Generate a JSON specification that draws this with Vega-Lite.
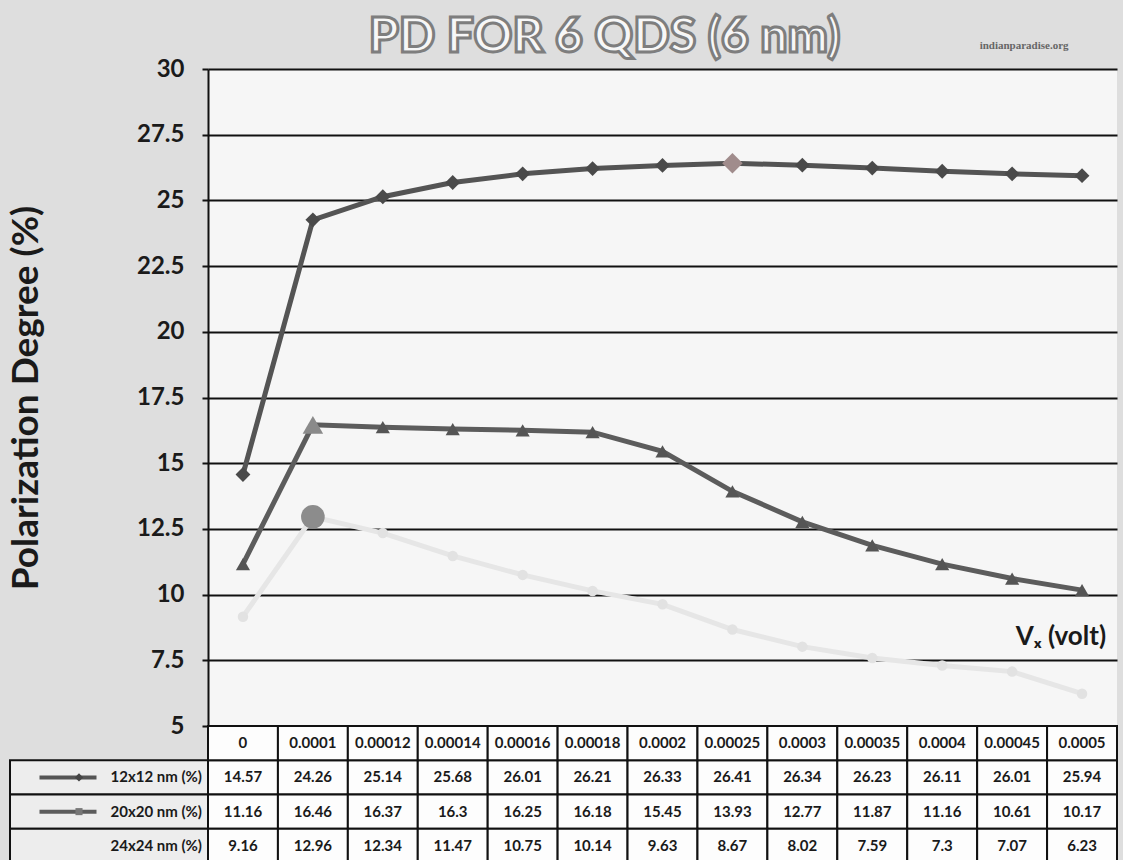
{
  "$schema": "https://vega.github.io/schema/vega-lite/v6.json",
  "background": "#dedede",
  "padding": {"left": 7, "top": 14, "right": 6, "bottom": 0},
  "config": {"font": "Lato", "view": {"stroke": null}},
  "datasets": {
    "pd": [
      {"vx": "0", "series": "12x12 nm (%)", "pd": 14.57},
      {"vx": "0.0001", "series": "12x12 nm (%)", "pd": 24.26},
      {"vx": "0.00012", "series": "12x12 nm (%)", "pd": 25.14},
      {"vx": "0.00014", "series": "12x12 nm (%)", "pd": 25.68},
      {"vx": "0.00016", "series": "12x12 nm (%)", "pd": 26.01},
      {"vx": "0.00018", "series": "12x12 nm (%)", "pd": 26.21},
      {"vx": "0.0002", "series": "12x12 nm (%)", "pd": 26.33},
      {"vx": "0.00025", "series": "12x12 nm (%)", "pd": 26.41},
      {"vx": "0.0003", "series": "12x12 nm (%)", "pd": 26.34},
      {"vx": "0.00035", "series": "12x12 nm (%)", "pd": 26.23},
      {"vx": "0.0004", "series": "12x12 nm (%)", "pd": 26.11},
      {"vx": "0.00045", "series": "12x12 nm (%)", "pd": 26.01},
      {"vx": "0.0005", "series": "12x12 nm (%)", "pd": 25.94},
      {"vx": "0", "series": "20x20 nm (%)", "pd": 11.16},
      {"vx": "0.0001", "series": "20x20 nm (%)", "pd": 16.46},
      {"vx": "0.00012", "series": "20x20 nm (%)", "pd": 16.37},
      {"vx": "0.00014", "series": "20x20 nm (%)", "pd": 16.3},
      {"vx": "0.00016", "series": "20x20 nm (%)", "pd": 16.25},
      {"vx": "0.00018", "series": "20x20 nm (%)", "pd": 16.18},
      {"vx": "0.0002", "series": "20x20 nm (%)", "pd": 15.45},
      {"vx": "0.00025", "series": "20x20 nm (%)", "pd": 13.93},
      {"vx": "0.0003", "series": "20x20 nm (%)", "pd": 12.77},
      {"vx": "0.00035", "series": "20x20 nm (%)", "pd": 11.87},
      {"vx": "0.0004", "series": "20x20 nm (%)", "pd": 11.16},
      {"vx": "0.00045", "series": "20x20 nm (%)", "pd": 10.61},
      {"vx": "0.0005", "series": "20x20 nm (%)", "pd": 10.17},
      {"vx": "0", "series": "24x24 nm (%)", "pd": 9.16},
      {"vx": "0.0001", "series": "24x24 nm (%)", "pd": 12.96},
      {"vx": "0.00012", "series": "24x24 nm (%)", "pd": 12.34},
      {"vx": "0.00014", "series": "24x24 nm (%)", "pd": 11.47},
      {"vx": "0.00016", "series": "24x24 nm (%)", "pd": 10.75},
      {"vx": "0.00018", "series": "24x24 nm (%)", "pd": 10.14},
      {"vx": "0.0002", "series": "24x24 nm (%)", "pd": 9.63},
      {"vx": "0.00025", "series": "24x24 nm (%)", "pd": 8.67},
      {"vx": "0.0003", "series": "24x24 nm (%)", "pd": 8.02},
      {"vx": "0.00035", "series": "24x24 nm (%)", "pd": 7.59},
      {"vx": "0.0004", "series": "24x24 nm (%)", "pd": 7.3},
      {"vx": "0.00045", "series": "24x24 nm (%)", "pd": 7.07},
      {"vx": "0.0005", "series": "24x24 nm (%)", "pd": 6.23}
    ]
  },
  "columns": 2,
  "spacing": 0,
  "bounds": "flush",
  "align": "each",
  "concat": [
    {
      "width": 198,
      "height": 657,
      "data": {"values": [{"t": ""}]},
      "mark": {"type": "text"},
      "encoding": {"text": {"field": "t", "type": "nominal"}}
    },
    {
      "width": 909,
      "height": 657,
      "data": {"name": "pd"},
      "view": {"fill": "#f6f6f6", "stroke": null},
      "encoding": {
        "x": {
          "field": "vx",
          "type": "ordinal",
          "scale": {
            "type": "point",
            "padding": 0.5,
            "domain": ["0", "0.0001", "0.00012", "0.00014", "0.00016", "0.00018", "0.0002", "0.00025", "0.0003", "0.00035", "0.0004", "0.00045", "0.0005"]
          },
          "axis": null
        },
        "y": {
          "field": "pd",
          "type": "quantitative",
          "scale": {"domain": [5, 30], "nice": false, "zero": false},
          "axis": {
            "values": [5, 7.5, 10, 12.5, 15, 17.5, 20, 22.5, 25, 27.5, 30],
            "format": ".1~f",
            "grid": true,
            "gridColor": "#111111",
            "gridWidth": 2,
            "gridOpacity": 1,
            "domainColor": "#111111",
            "domainWidth": 2,
            "tickColor": "#111111",
            "tickWidth": 2,
            "tickSize": 6,
            "labelFont": "Lato",
            "labelFontWeight": "bold",
            "labelFontSize": 24,
            "labelColor": "#1a1a1a",
            "labelPadding": 18,
            "title": "Polarization Degree (%)",
            "titleFont": "Lato",
            "titleFontWeight": "bold",
            "titleFontSize": 37,
            "titleColor": "#1a1a1a",
            "titlePadding": 91
          }
        }
      },
      "layer": [
        {
          "mark": {"type": "line", "strokeWidth": 5},
          "encoding": {
            "color": {
              "field": "series",
              "type": "nominal",
              "scale": {"domain": ["12x12 nm (%)", "20x20 nm (%)", "24x24 nm (%)"], "range": ["#545454", "#5c5c5c", "#e6e6e6"]},
              "legend": null
            }
          }
        },
        {
          "transform": [{"filter": "datum.series == '12x12 nm (%)'"}],
          "mark": {"type": "point", "shape": "diamond", "filled": true, "size": 220, "color": "#4a4a4a", "opacity": 1}
        },
        {
          "transform": [{"filter": "datum.series == '20x20 nm (%)'"}],
          "mark": {"type": "point", "shape": "triangle-up", "filled": true, "size": 200, "color": "#555555", "opacity": 1}
        },
        {
          "transform": [{"filter": "datum.series == '24x24 nm (%)'"}],
          "mark": {"type": "point", "shape": "circle", "filled": true, "size": 110, "color": "#e2e2e2", "opacity": 1}
        },
        {
          "transform": [{"filter": "datum.series == '12x12 nm (%)' && datum.vx == '0.00025'"}],
          "mark": {"type": "point", "shape": "diamond", "filled": true, "size": 420, "color": "#a08c8c", "opacity": 1}
        },
        {
          "transform": [{"filter": "datum.series == '20x20 nm (%)' && datum.vx == '0.0001'"}],
          "mark": {"type": "point", "shape": "triangle-up", "filled": true, "size": 420, "color": "#8a8a8a", "opacity": 1}
        },
        {
          "transform": [{"filter": "datum.series == '24x24 nm (%)' && datum.vx == '0.0001'"}],
          "mark": {"type": "point", "shape": "circle", "filled": true, "size": 560, "color": "#8c8c8c", "opacity": 1}
        },
        {
          "transform": [{"filter": "datum.series == '12x12 nm (%)' && datum.vx == '0.0005'"}],
          "mark": {"type": "text", "align": "right", "baseline": "middle", "font": "Lato", "fontWeight": "bold", "fontSize": 26, "color": "#1a1a1a", "dx": 24},
          "encoding": {
            "x": {"datum": "0.0005"},
            "y": {"datum": 8.4},
            "text": {"value": "Vₓ (volt)"}
          }
        },
        {
          "transform": [{"filter": "datum.series == '12x12 nm (%)' && datum.vx == '0.00018'"}],
          "mark": {"type": "text", "align": "center", "baseline": "middle", "font": "Lato", "fontWeight": 900, "fontSize": 48, "fill": "#f7f7f7", "stroke": "#7e7e7e", "strokeWidth": 3, "dx": 12, "dy": -31},
          "encoding": {
            "x": {"datum": "0.00018"},
            "y": {"datum": 30},
            "text": {"value": "PD FOR 6 QDS (6 nm)"}
          }
        },
        {
          "transform": [{"filter": "datum.series == '12x12 nm (%)' && datum.vx == '0.00045'"}],
          "mark": {"type": "text", "align": "center", "baseline": "middle", "font": "Liberation Serif", "fontWeight": "bold", "fontSize": 11, "color": "#666666", "dx": 12, "dy": -23},
          "encoding": {
            "x": {"datum": "0.00045"},
            "y": {"datum": 30},
            "text": {"value": "indianparadise.org"}
          }
        }
      ]
    },
    {
      "width": 198,
      "height": 137,
      "data": {"name": "pd"},
      "transform": [{"filter": "datum.vx == '0'"}],
      "encoding": {
        "y": {
          "field": "series",
          "type": "nominal",
          "scale": {"type": "band", "domain": ["hdr", "12x12 nm (%)", "20x20 nm (%)", "24x24 nm (%)"], "paddingInner": 0, "paddingOuter": 0},
          "axis": null
        }
      },
      "layer": [
        {
          "mark": {"type": "rect", "fill": "#ededed", "stroke": "#111111", "strokeWidth": 2}
        },
        {
          "mark": {"type": "text", "align": "right", "baseline": "middle", "font": "Lato", "fontWeight": "bold", "fontSize": 15, "color": "#1a1a1a", "dx": 93},
          "encoding": {"text": {"field": "series", "type": "nominal"}}
        },
        {
          "transform": [{"filter": "datum.series != '24x24 nm (%)'"}],
          "mark": {"type": "point", "shape": "M-1,0L1,0", "filled": false, "size": 3249, "strokeWidth": 4, "opacity": 1, "xOffset": -41},
          "encoding": {
            "color": {
              "field": "series",
              "type": "nominal",
              "scale": {"domain": ["12x12 nm (%)", "20x20 nm (%)", "24x24 nm (%)"], "range": ["#545454", "#8a8a8a", "#e4e4e4"]},
              "legend": null
            }
          }
        },
        {
          "transform": [{"filter": "datum.series == '12x12 nm (%)'"}],
          "mark": {"type": "point", "shape": "diamond", "filled": true, "size": 70, "color": "#444444", "opacity": 1, "xOffset": -30}
        },
        {
          "transform": [{"filter": "datum.series == '20x20 nm (%)'"}],
          "mark": {"type": "point", "shape": "square", "filled": true, "size": 50, "color": "#777777", "opacity": 1, "xOffset": -30}
        }
      ]
    },
    {
      "width": 909,
      "height": 137,
      "data": {"name": "pd"},
      "encoding": {
        "x": {
          "field": "vx",
          "type": "ordinal",
          "scale": {
            "type": "band",
            "paddingInner": 0,
            "paddingOuter": 0,
            "domain": ["0", "0.0001", "0.00012", "0.00014", "0.00016", "0.00018", "0.0002", "0.00025", "0.0003", "0.00035", "0.0004", "0.00045", "0.0005"]
          },
          "axis": null
        },
        "y": {
          "field": "series",
          "type": "nominal",
          "scale": {"type": "band", "domain": ["hdr", "12x12 nm (%)", "20x20 nm (%)", "24x24 nm (%)"], "paddingInner": 0, "paddingOuter": 0},
          "axis": null
        }
      },
      "layer": [
        {
          "mark": {"type": "rect", "fill": "#fdfdfd", "stroke": "#111111", "strokeWidth": 2}
        },
        {
          "transform": [{"filter": "datum.series == '12x12 nm (%)'"}],
          "mark": {"type": "rect", "fill": "#fdfdfd", "stroke": "#111111", "strokeWidth": 2},
          "encoding": {"y": {"datum": "hdr"}}
        },
        {
          "mark": {"type": "text", "align": "center", "baseline": "middle", "font": "Lato", "fontWeight": "bold", "fontSize": 15, "color": "#1a1a1a"},
          "encoding": {"text": {"field": "pd", "type": "nominal"}}
        },
        {
          "transform": [{"filter": "datum.series == '12x12 nm (%)'"}],
          "mark": {"type": "text", "align": "center", "baseline": "middle", "font": "Lato", "fontWeight": "bold", "fontSize": 15, "color": "#1a1a1a"},
          "encoding": {"y": {"datum": "hdr"}, "text": {"field": "vx", "type": "nominal"}}
        }
      ]
    }
  ]
}
